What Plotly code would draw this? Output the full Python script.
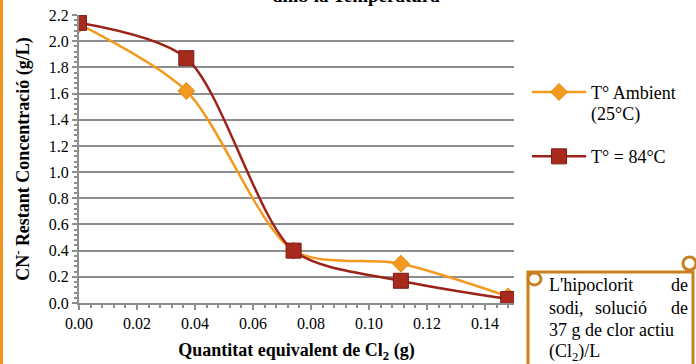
import plotly.graph_objects as go

x_vals = [0.0, 0.037, 0.074, 0.111, 0.148]
ambient = [2.13, 1.62, 0.40, 0.30, 0.05]
hot84 = [2.14, 1.87, 0.40, 0.17, 0.03]
series_names = ["T° Ambient", "T° = 84°C"]
series_note = "(25°C)"
x_ticks = [0.00, 0.02, 0.04, 0.06, 0.08, 0.10, 0.12, 0.14]
y_ticks = [0.0, 0.2, 0.4, 0.6, 0.8, 1.0, 1.2, 1.4, 1.6, 1.8, 2.0, 2.2]

FONT = "Liberation Serif, Times New Roman, serif"
ORANGE = "#F39A1E"
DARKRED = "#9B2318"
BOX = "#C8801F"
GRID = "#8E8E8E"

fig = go.Figure()
fig.add_trace(go.Scatter(
    x=x_vals, y=ambient, name=series_names[0], mode="lines+markers", legendgroup="a",
    line=dict(color=ORANGE, width=2.5, shape="spline", smoothing=0.8),
    marker=dict(symbol="diamond", size=13, color=ORANGE, line=dict(color="#E08A10", width=1)),
))
fig.add_trace(go.Scatter(
    x=x_vals, y=hot84, name=series_names[1], mode="lines+markers", legendgroup="b",
    line=dict(color=DARKRED, width=2.5, shape="spline", smoothing=0.8),
    marker=dict(symbol="square", size=15, color="#A8291E", line=dict(color="#7A1A12", width=1)),
))

fig.update_layout(
    width=696, height=364,
    margin=dict(l=79, r=182, t=15, b=61, autoexpand=False),
    paper_bgcolor="white", plot_bgcolor="white",
    font=dict(family=FONT, size=15, color="black"),
    showlegend=True,
    legend=dict(x=1.03, y=0.796, xanchor="left", yanchor="top",
                font=dict(family=FONT, size=18), tracegroupgap=38,
                bgcolor="rgba(0,0,0,0)", itemwidth=54),
)
fig.update_xaxes(
    range=[0, 0.15], tickvals=x_ticks, ticktext=[f"{v:.2f}" for v in x_ticks],
    tickfont=dict(family=FONT, size=16, color="black"), automargin=False,
    showgrid=False, zeroline=False, showline=True, linecolor=GRID, linewidth=2,
    ticks="outside", ticklen=5, tickcolor=GRID, tickwidth=2,
    minor=dict(dtick=0.004, ticks="outside", ticklen=3, tickcolor=GRID, showgrid=False),
    title=dict(text="<b>Quantitat equivalent de Cl<sub>2</sub> (g)</b>", font=dict(family=FONT, size=18), standoff=12),
)
fig.update_yaxes(
    range=[0, 2.2], tickvals=y_ticks, ticktext=[f"{v:.1f}" for v in y_ticks],
    tickfont=dict(family=FONT, size=16, color="black"), automargin=False,
    showgrid=True, gridcolor=GRID, gridwidth=2, zeroline=False,
    showline=True, linecolor=GRID, linewidth=2,
    ticks="outside", ticklen=5, tickcolor=GRID, tickwidth=2,
    minor=dict(dtick=0.04, ticks="outside", ticklen=3, tickcolor=GRID, showgrid=False),
    title=dict(text="<b>CN<sup>-</sup> Restant Concentració (g/L)</b>", font=dict(family=FONT, size=18), standoff=14),
)

def px(xp):
    return (xp - 79) / 435

def py(yp):
    return (303 - yp) / 288

# partially clipped title
fig.add_annotation(xref="paper", yref="paper", x=px(356), y=1.023,
                   xanchor="center", yanchor="bottom", showarrow=False,
                   text="<b>amb la Temperatura</b>", font=dict(family=FONT, size=19))

# second line of first legend entry
fig.add_annotation(xref="paper", yref="paper", x=px(589), y=py(114),
                   xanchor="left", yanchor="middle", showarrow=False,
                   text=series_note, font=dict(family=FONT, size=18))

# left orange edge
fig.add_shape(type="rect", xref="paper", yref="paper",
              x0=-79 / 435, x1=-76 / 435, y0=-61 / 288, y1=1 + 15 / 288,
              fillcolor="#F7941D", line=dict(width=0))

# scroll-like text box
fig.add_shape(type="rect", xref="paper", yref="paper",
              x0=px(528), x1=px(693), y0=py(368), y1=py(272),
              fillcolor="white", line=dict(color=BOX, width=3))
fig.add_shape(type="circle", xref="paper", yref="paper",
              x0=px(683), x1=px(696), y0=py(270), y1=py(257),
              fillcolor="white", line=dict(color=BOX, width=3))
fig.add_shape(type="circle", xref="paper", yref="paper",
              x0=px(528), x1=px(541), y0=py(285), y1=py(273),
              fillcolor="white", line=dict(color=BOX, width=3))

lines = [
    (285, [("L'hipoclorit", 547, "left"), ("de", 690, "right")]),
    (308, [("sodi,", 547, "left"), ("solució", 621, "center"), ("de", 690, "right")]),
    (330, [("37 g de clor actiu", 547, "left")]),
    (352, [("(Cl<sub>2</sub>)/L", 547, "left")]),
]
for yy, parts in lines:
    for txt, xx, anc in parts:
        fig.add_annotation(xref="paper", yref="paper", x=px(xx), y=py(yy),
                           xanchor=anc, yanchor="middle", showarrow=False,
                           text=txt, font=dict(family=FONT, size=18))

fig.write_html("out.html", config={"displayModeBar": False},
               post_script="document.body.style.margin='0';document.body.style.overflow='hidden';")
